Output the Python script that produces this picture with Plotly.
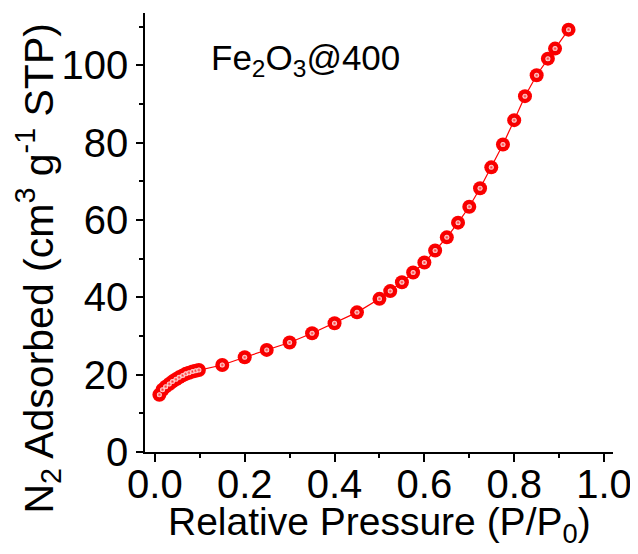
import plotly.graph_objects as go

# Relative pressure (P/P0)
pressure = [0.010, 0.017, 0.024, 0.032, 0.039, 0.047, 0.054, 0.062, 0.069, 0.076,
            0.084, 0.091, 0.098, 0.150, 0.200, 0.249, 0.300, 0.350, 0.400, 0.450,
            0.500, 0.524, 0.550, 0.575, 0.600, 0.624, 0.650, 0.675, 0.700, 0.724,
            0.749, 0.775, 0.800, 0.824, 0.850, 0.875, 0.891, 0.921]
# N2 adsorbed (cm3 g-1 STP)
adsorbed = [14.8, 16.1, 16.9, 17.6, 18.2, 18.8, 19.3, 19.8, 20.2, 20.5,
            20.8, 21.0, 21.2, 22.5, 24.5, 26.4, 28.3, 30.7, 33.3, 36.1,
            39.6, 41.6, 43.9, 46.4, 49.0, 52.1, 55.5, 59.3, 63.4, 68.2,
            73.6, 79.5, 85.8, 92.0, 97.4, 101.7, 104.3, 109.2]

x_ticks = [0.0, 0.2, 0.4, 0.6, 0.8, 1.0]
x_ticklabels = ["0.0", "0.2", "0.4", "0.6", "0.8", "1.0"]
y_ticks = [0, 20, 40, 60, 80, 100]
y_ticklabels = ["0", "20", "40", "60", "80", "100"]

sample_label = "Fe<sub>2</sub>O<sub>3</sub>@400"
x_title = "Relative Pressure (P/P<sub>0</sub>)"
y_title = "N<sub>2</sub> Adsorbed (cm<sup>3</sup> g<sup>-1</sup> STP)"

FONT = "Liberation Sans, Arial, sans-serif"

fig = go.Figure()
fig.add_trace(go.Scatter(
    x=pressure, y=adsorbed, mode="lines",
    line=dict(color="#ff0000", width=1.2), hoverinfo="skip", showlegend=False))
fig.add_trace(go.Scatter(
    x=pressure, y=adsorbed, mode="markers",
    marker=dict(size=14, color="#ff0000",
                gradient=dict(type="radial", color="#e80000"),
                line=dict(width=0)),
    showlegend=False))
fig.add_trace(go.Scatter(
    x=pressure, y=adsorbed, mode="markers",
    marker=dict(size=5, color="#fff0f0",
                gradient=dict(type="radial", color="#ff2a2a"),
                line=dict(width=0)),
    hoverinfo="skip", showlegend=False))

fig.add_annotation(
    x=0.12, y=101.3, xref="x", yref="y", text=sample_label, showarrow=False,
    xanchor="left", yanchor="middle",
    font=dict(family=FONT, size=35, color="black"))

# axis titles as annotations (positioned like the reference)
fig.add_annotation(
    x=0.5, y=0, xref="paper", yref="paper", yshift=-72, text=x_title,
    showarrow=False, xanchor="center", yanchor="middle",
    font=dict(family=FONT, size=39, color="black"))
fig.add_annotation(
    x=0, y=0.418, xref="paper", yref="paper", xshift=-106, text=y_title,
    textangle=-90, showarrow=False, xanchor="center", yanchor="middle",
    font=dict(family=FONT, size=41, color="black"))

# page body adds an 8px offset, so the figure is 8px smaller and shifted
fig.update_layout(
    width=630, height=546,
    margin=dict(l=137, r=25, t=5, b=102),
    paper_bgcolor="white", plot_bgcolor="white",
    font=dict(family=FONT, color="black"),
)
fig.update_xaxes(
    range=[-0.022, 1.02], showgrid=False, zeroline=False, automargin=False,
    showline=True, linecolor="black", linewidth=1.5, mirror=False,
    tickmode="array", tickvals=x_ticks, ticktext=x_ticklabels,
    ticks="outside", ticklen=8, tickwidth=1.5, tickcolor="black",
    ticklabelstandoff=-12,
    minor=dict(dtick=0.1, ticks="outside", ticklen=4, tickwidth=1.5, tickcolor="black"),
    tickfont=dict(family=FONT, size=40, color="black"),
)
fig.update_yaxes(
    range=[0, 113.5], showgrid=False, zeroline=False, automargin=False,
    showline=True, linecolor="black", linewidth=1.5, mirror=False,
    tickmode="array", tickvals=y_ticks, ticktext=y_ticklabels,
    ticks="outside", ticklen=7, tickwidth=1.5, tickcolor="black",
    minor=dict(dtick=10, ticks="outside", ticklen=4, tickwidth=1.5, tickcolor="black"),
    tickfont=dict(family=FONT, size=40, color="black"),
)

fig.write_html("out.html")
